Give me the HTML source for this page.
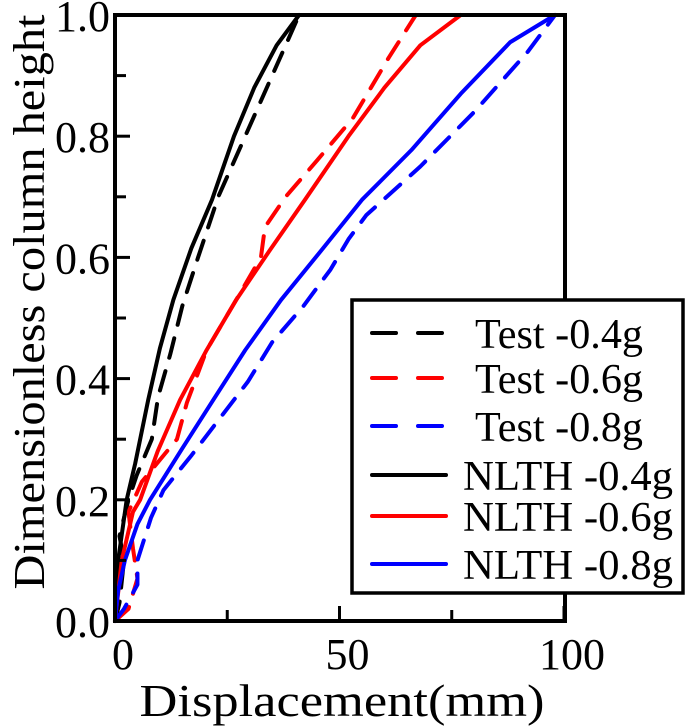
<!DOCTYPE html>
<html><head><meta charset="utf-8"><style>
body{margin:0;background:#fff;}
svg{display:block;font-family:"Liberation Serif",serif;}
</style></head><body>
<svg id="chart" width="685" height="727">
<g id="marks"></g>
<rect x="115" y="15" width="450" height="606" fill="none" stroke="#000" stroke-width="4"/>
<g id="axes"></g>
<text x="342" y="716" font-size="46" textLength="405" lengthAdjust="spacingAndGlyphs" text-anchor="middle">Displacement(mm)</text>
<text transform="translate(44,302) rotate(-90)" font-size="44" textLength="575" lengthAdjust="spacingAndGlyphs" text-anchor="middle">Dimensionless column height</text>
<g id="legend"></g>
</svg>
<script>
const xTicks=[0,50,100];
const xMinor=[25,75];
const yTicks=[0,0.2,0.4,0.6,0.8,1.0];
const yMinor=[0.1,0.3,0.5,0.7,0.9];
const yTickLabels=["0.0","0.2","0.4","0.6","0.8","1.0"];
const seriesNames=["Test -0.4g","Test -0.6g","Test -0.8g","NLTH -0.4g","NLTH -0.6g","NLTH -0.8g"];
const test04=[[0,0],[1,0.03],[2,0.1],[1,0.14],[3,0.2],[4.8,0.24],[8.2,0.3],[9.6,0.37],[12.3,0.44],[15,0.52],[18.5,0.6],[23,0.7],[29,0.8],[35,0.9],[41,1.0]];
const test06=[[0,0],[3,0.02],[5,0.07],[4,0.12],[3,0.18],[6,0.23],[13.8,0.3],[16,0.36],[20.4,0.447],[27,0.53],[32.5,0.6],[33.4,0.65],[38,0.7],[45,0.76],[53,0.83],[61,0.93],[67,1.0]];
const test08=[[0,0],[2,0.02],[5,0.06],[5,0.1],[8,0.17],[10.8,0.216],[17.1,0.274],[23.4,0.335],[29.6,0.395],[35,0.46],[42,0.52],[48,0.58],[52,0.63],[56,0.67],[68,0.75],[80,0.84],[92,0.94],[98,1.0]];
const nlth04=[[0,0],[0.7,0.1],[2.6,0.2],[4.5,0.26],[7.4,0.365],[10,0.45],[13,0.53],[17,0.615],[21.6,0.695],[26.5,0.8],[31,0.88],[36,0.95],[41,1.0]];
const nlth06=[[0,0],[1.5,0.1],[4,0.18],[5.6,0.2],[9.5,0.28],[14.5,0.365],[20.4,0.447],[27,0.53],[34.5,0.612],[42.3,0.695],[52,0.8],[60,0.88],[68,0.95],[77,1.0]];
const nlth08=[[0,0],[0.7,0.05],[2.2,0.1],[5,0.16],[7.8,0.2],[15,0.285],[21.9,0.365],[29,0.447],[37,0.53],[46,0.612],[55,0.695],[66,0.777],[77,0.87],[88,0.955],[98,1.0]];
const seriesData=[test04,test06,test08,nlth04,nlth06,nlth08];
const colors=["#000","#f00","#00f","#000","#f00","#00f"];
const dashed=[true,true,true,false,false,false];
const X=v=>115+v*4.49, Y=v=>621-v*606;
const NS="http://www.w3.org/2000/svg";
function mk(t,a,p){const e=document.createElementNS(NS,t);for(const k in a)e.setAttribute(k,a[k]);p.appendChild(e);return e;}
const marks=document.getElementById('marks'),axes=document.getElementById('axes'),leg=document.getElementById('legend');
seriesData.forEach((d,i)=>{
  const p=mk('polyline',{points:d.map(q=>X(q[0])+','+Y(q[1])).join(' '),fill:'none',stroke:colors[i],'stroke-width':4,'stroke-linecap':'round','stroke-linejoin':'round','stroke-dasharray':dashed[i]?'20 14':'none'},marks);
  
  
});
xTicks.forEach(v=>{
  const l=mk('line',{x1:X(v),x2:X(v),y1:621,y2:606,stroke:'#000','stroke-width':3},axes);
  
  
  const t=mk('text',{x:X(v)+8,y:669,'font-size':44,'text-anchor':'middle'},axes);t.textContent=v;
  
  
});
xMinor.forEach(v=>{
  const l=mk('line',{x1:X(v),x2:X(v),y1:621,y2:610,stroke:'#000','stroke-width':3},axes);
  
  
});
yTicks.forEach((v,i)=>{
  const l=mk('line',{x1:115,x2:130,y1:Y(v),y2:Y(v),stroke:'#000','stroke-width':3},axes);
  
  
  const t=mk('text',{x:110,y:Y(v)+16,'font-size':44,'text-anchor':'end'},axes);t.textContent=yTickLabels[i];
  
  
});
yMinor.forEach(v=>{
  const l=mk('line',{x1:115,x2:126,y1:Y(v),y2:Y(v),stroke:'#000','stroke-width':3},axes);
  
  
});
mk('rect',{x:352,y:300,width:331,height:293,fill:'#fff',stroke:'#000','stroke-width':3.5},leg);
const rowY=[333,378,426,475,516,564];
seriesNames.forEach((n,i)=>{
  const y=rowY[i];
  mk('line',{x1:372,x2:446,y1:y,y2:y,stroke:colors[i],'stroke-width':4,'stroke-linecap':'round','stroke-dasharray':dashed[i]?'24 22':'none'},leg);
  const t=mk('text',{x:dashed[i]?475:463,y:y+15,'font-size':42,textLength:dashed[i]?168:210,lengthAdjust:'spacingAndGlyphs'},leg);t.textContent=n;
  
  
});
</script>
</body></html>
